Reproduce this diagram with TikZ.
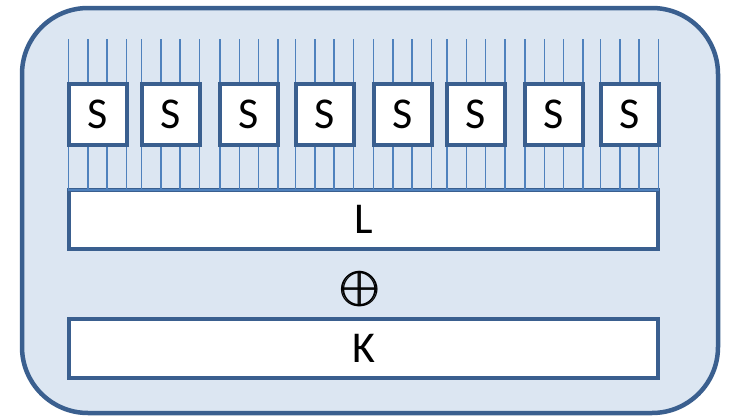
\documentclass[tikz,border=0pt]{standalone}
\usepackage{amsmath}
\usepackage{fontspec}
\setmainfont{Carlito}
\usetikzlibrary{calc}
\definecolor{panelfill}{HTML}{DCE6F2}
\definecolor{edgeblue}{HTML}{3A5F8F}
\definecolor{wireblue}{HTML}{4F81BD}
\tikzset{
  panel/.style={draw=edgeblue, fill=panelfill, line width=4.5pt, rounded corners=66pt},
  sbox/.style={draw=edgeblue, fill=white, line width=4pt, outer sep=0pt, inner sep=0pt,
    minimum width=58pt, minimum height=61pt, font=\fontsize{44}{44}\selectfont},
  bar/.style={draw=edgeblue, fill=white, line width=4pt, outer sep=0pt, inner sep=0pt,
    minimum width=589pt, minimum height=59pt, font=\fontsize{44}{44}\selectfont},
  wire/.style={draw=wireblue, line width=1.6pt},
}
\begin{document}
\begin{tikzpicture}[x=1pt,y=-1pt]
\useasboundingbox (0,0) rectangle (729,418);
% outer panel
\draw[panel] (22,8) rectangle (718,413);
% linear layer and key layer
\node[bar] (L) at (363.5,219.5) {L};
\node[bar] (K) at (363.5,348.5) {K};
\node (x) at (361,289) {\scalebox{5.2}{$\pmb{\oplus}$}};
% S-box layer with four wires in and out of each box
\foreach \cx [count=\i] in {97.5,170.5,249,324.5,402.5,476,554,629.5}{
  \path (\cx,114.5) coordinate (c\i);
  \foreach \k in {0,...,3}{
    \coordinate (t\i\k) at ($(c\i)+(-29+19.333*\k,-75.5)$);
    \draw[wire] (t\i\k) -- ($(c\i)+(-29+19.333*\k,-30.5)$);
    \draw[wire] ($(c\i)+(-29+19.333*\k,30.5)$) |- (L.north);
  }
  \node[sbox] (s\i) at (c\i) {S};
}
\end{tikzpicture}
\end{document}
